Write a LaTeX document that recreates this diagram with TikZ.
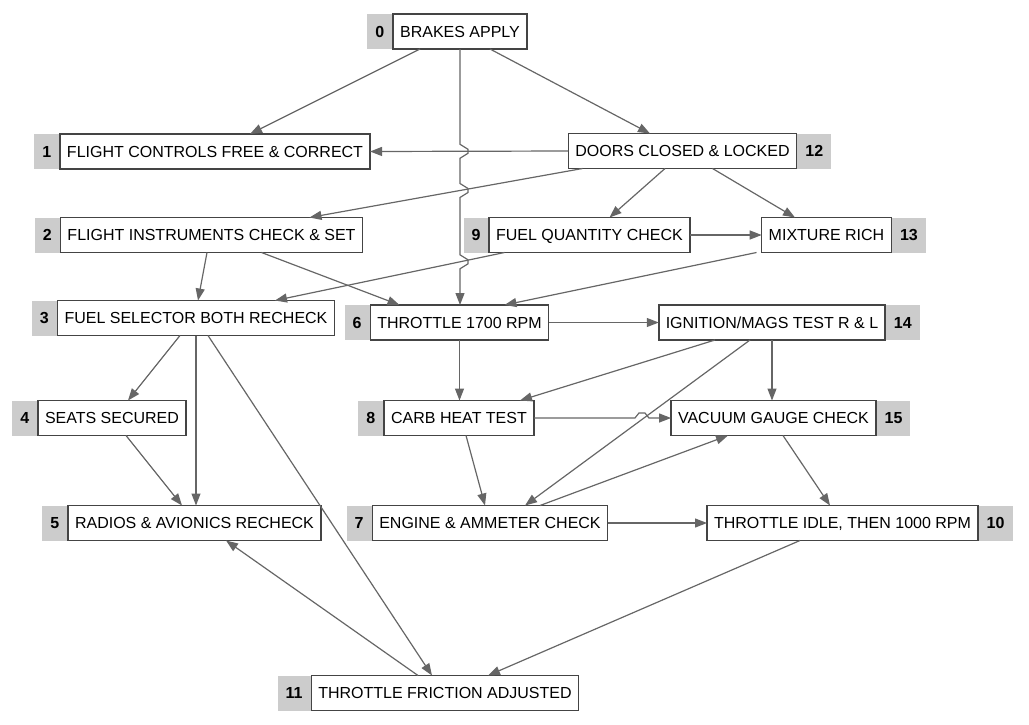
\documentclass[tikz,border=0pt]{standalone}
\usepackage{fontspec}
\setmainfont{Liberation Sans}
\usepackage{xcolor}
\usetikzlibrary{positioning,arrows.meta,calc,intersections}
\definecolor{edgegray}{HTML}{666666}
\definecolor{boxgray}{HTML}{444444}
\definecolor{badgegray}{HTML}{CCCCCC}
\tikzset{
  box/.style={draw=boxgray, line width=1.5pt, fill=white, minimum height=35pt,
    inner xsep=7pt, inner ysep=0pt, outer sep=0pt, text height=11.5pt, text depth=0pt,
    font=\fontsize{16}{19}\selectfont},
  badge/.style={fill=badgegray, minimum height=35pt, inner xsep=8pt, inner ysep=0pt,
    outer sep=0pt, text height=11.5pt, text depth=0pt,
    font=\fontsize{16}{19}\selectfont\bfseries},
  edge/.style={draw=edgegray, line width=1.2pt, -{Triangle[length=12pt,width=9pt]}},
}

\begin{document}
\begin{tikzpicture}[x=1pt,y=-1pt]
        \useasboundingbox (0,0) rectangle (1029,724);

        % Steps
        \node[box] (n0)  at (460,31.5)  {BRAKES APPLY};
        \node[box] (n1)  at (215,151.5) {FLIGHT CONTROLS FREE \& CORRECT};
        \node[box] (n12) at (682.5,151) {DOORS CLOSED \& LOCKED};
        \node[box] (n2)  at (211.5,235) {FLIGHT INSTRUMENTS CHECK \& SET};
        \node[box] (n9)  at (589.5,235) {FUEL QUANTITY CHECK};
        \node[box] (n13) at (826.5,235) {MIXTURE RICH};
        \node[box] (n3)  at (196,318)   {FUEL SELECTOR BOTH RECHECK};
        \node[box] (n6)  at (459.5,322.5) {THROTTLE 1700 RPM};
        \node[box] (n14) at (772,322.5) {IGNITION/MAGS TEST R \& L};
        \node[box] (n4)  at (112,418)   {SEATS SECURED};
        \node[box] (n8)  at (459,418)   {CARB HEAT TEST};
        \node[box] (n15) at (773.5,418) {VACUUM GAUGE CHECK};
        \node[box] (n5)  at (194.5,523) {RADIOS \& AVIONICS RECHECK};
        \node[box] (n7)  at (490,523)   {ENGINE \& AMMETER CHECK};
        \node[box] (n10) at (842.5,523) {THROTTLE IDLE, THEN 1000 RPM};
        \node[box] (n11) at (445,693)   {THROTTLE FRICTION ADJUSTED};

        % Numbers
        \node[badge, left=0.75pt of n0]   (b0)  {0};
        \node[badge, left=0.75pt of n1]   (b1)  {1};
        \node[badge, right=0.75pt of n12] (b12) {12};
        \node[badge, left=0.75pt of n2]   (b2)  {2};
        \node[badge, left=0.75pt of n9]   (b9)  {9};
        \node[badge, right=0.75pt of n13] (b13) {13};
        \node[badge, left=0.75pt of n3]   (b3)  {3};
        \node[badge, left=0.75pt of n6]   (b6)  {6};
        \node[badge, right=0.75pt of n14] (b14) {14};
        \node[badge, left=0.75pt of n4]   (b4)  {4};
        \node[badge, left=0.75pt of n8]   (b8)  {8};
        \node[badge, right=0.75pt of n15] (b15) {15};
        \node[badge, left=0.75pt of n5]   (b5)  {5};
        \node[badge, left=0.75pt of n7]   (b7)  {7};
        \node[badge, right=0.75pt of n10] (b10) {10};
        \node[badge, left=0.75pt of n11]  (b11) {11};

        % Links
        \draw[edge] ([xshift=-40]n0.south) -- ([xshift=35]n1.north);
        \draw[edge] ([xshift=30]n0.south) -- ([xshift=-32.5]n12.north);
        \draw[edge, name path=e12-1] (n12.west) -- (n1.east);
        \draw[edge, name path=e12-2] ([xshift=-100]n12.south) -- ([xshift=98]n2.north);
        \draw[edge] ([xshift=-17.5]n12.south) -- ([xshift=20]n9.north);
        \draw[edge] ([xshift=30]n12.south) -- ([xshift=-31.5]n13.north);
        \draw[edge] (n9.east) -- (n13.west);
        \draw[edge, name path=e9-3] ([xshift=-85]n9.south) -- ([xshift=79]n3.north);
        \draw[edge] ([xshift=-4.5]n2.south) -- ([xshift=2]n3.north);
        \draw[edge] ([xshift=50]n2.south) -- ([xshift=-60]n6.north);
        \draw[edge] ([xshift=-70]n13.south) -- ([xshift=45]n6.north);
        \draw[edge] (n6.east) -- (n14.west);
        \draw[edge] (n6.south) -- (n6.south |- n8.north);
        \draw[edge] ([xshift=-16]n3.south) -- ([xshift=16]n4.north);
        \draw[edge] (n3.south) -- (n3.south |- n5.north);
        \draw[edge] ([xshift=12]n3.south) -- ([xshift=-13]n11.north);
        \draw[edge] ([xshift=14]n4.south) -- ([xshift=-12.5]n5.north);
        \draw[edge] ([xshift=-57]n14.south) -- ([xshift=61]n8.north);
        \draw[edge] (n14.south) -- (n14.south |- n15.north);
        \draw[edge, name path=e14-7] ([xshift=-22]n14.south) -- ([xshift=35]n7.north);
        \draw[edge] ([xshift=7]n8.south) -- ([xshift=-5]n7.north);
        \draw[edge] ([xshift=50]n7.north) -- ([xshift=-45.5]n15.south);
        \draw[edge] ([xshift=9.5]n15.south) -- ([xshift=-12.5]n10.north);
        \draw[edge] (n7.east) -- (n10.west);
        \draw[edge] ([xshift=-42.5]n10.south) -- ([xshift=43]n11.north);
        \draw[edge] ([xshift=-27]n11.north) -- ([xshift=31.5]n5.south);

        % Jumps over crossing links
        \path[name path=trunk] (n0.south) -- (n0.south |- n6.north);
        \path[name intersections={of=trunk and e12-1, by=hopa}];
        \path[name intersections={of=trunk and e12-2, by=hopb}];
        \path[name intersections={of=trunk and e9-3, by=hopc}];
        \draw[edge] (n0.south)
                -- ($(hopa)+(0,-7)$) -- ++(8,5) -- ++(0,4) -- ++(-8,5)
                -- ($(hopb)+(0,-7)$) -- ++(8,5) -- ++(0,4) -- ++(-8,5)
                -- ($(hopc)+(0,-7)$) -- ++(8,5) -- ++(0,4) -- ++(-8,5)
                -- (n0.south |- n6.north);

        \path[name path=flat] (n8.east) -- (n15.west);
        \path[name intersections={of=flat and e14-7, by=hopd}];
        \draw[edge] (n8.east) -- ($(hopd)+(-9,0)$) -- ++(4,-5) -- ++(6,0) -- ++(4,5)
                -- (n15.west);
\end{tikzpicture}
\end{document}
